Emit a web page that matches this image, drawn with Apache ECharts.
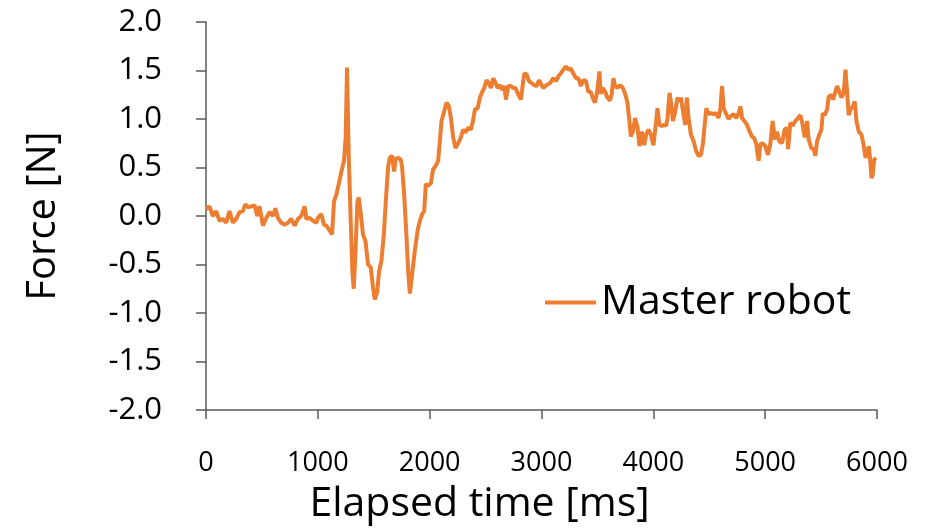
<!DOCTYPE html>
<html>
<head>
<meta charset="utf-8">
<script src="https://cdn.jsdelivr.net/npm/echarts@6/dist/echarts.min.js"></script>
<style>
  html, body { margin: 0; padding: 0; background: #fff; }
  #chart { width: 925px; height: 530px; }
</style>
</head>
<body>
<div id="chart"></div>
<script>
// elapsed time [ms]
const time = [
  0, 31, 61, 91, 121, 151, 181, 210, 240, 270, 300, 330, 351, 374, 405, 434, 458, 479, 509, 539,
  569, 598, 620, 643, 673, 703, 733, 763, 793, 822, 852, 882, 897, 927, 957, 987,
  1001, 1031, 1055, 1076, 1106, 1127, 1145, 1166, 1187, 1211, 1234, 1249, 1261, 1276, 1294, 1309,
  1321, 1336, 1354, 1366, 1384, 1404, 1426, 1449, 1473, 1494, 1509, 1530, 1548, 1569, 1590, 1610,
  1628, 1643, 1664, 1682, 1697, 1718, 1742, 1754, 1772, 1790, 1808, 1823, 1843, 1867, 1892, 1912,
  1933, 1951, 1966, 1986, 2011, 2031, 2055,
  2076, 2091, 2106, 2130, 2151, 2172, 2190, 2210, 2231, 2255, 2279, 2300, 2321, 2345, 2369, 2389,
  2405, 2429, 2449, 2470, 2488, 2509, 2530, 2548, 2569, 2590, 2608, 2628, 2649, 2667, 2682, 2703,
  2727, 2747, 2768, 2793, 2816, 2832, 2846, 2867, 2888, 2912, 2935, 2957, 2978,
  3016, 3046, 3076, 3106, 3130, 3151, 3172, 3195, 3219, 3240, 3261, 3285, 3309, 3330, 3351, 3375,
  3398, 3419, 3440, 3464, 3479, 3500, 3518, 3530, 3548, 3569, 3589, 3613, 3628, 3643, 3658, 3679,
  3703, 3727, 3748, 3768, 3786, 3799, 3817, 3837, 3858, 3876, 3897, 3918, 3936, 3956, 3978, 4001,
  4025, 4037, 4054, 4076, 4097, 4115, 4127, 4145, 4157, 4175, 4196, 4216, 4234, 4247, 4265, 4285,
  4300, 4315, 4336, 4360, 4383, 4404, 4425, 4444, 4458, 4473, 4494, 4515, 4539, 4563, 4582, 4599,
  4614, 4629, 4652, 4673, 4694, 4718, 4742, 4763, 4778, 4793, 4813, 4838, 4861, 4882, 4903, 4921,
  4933, 4942, 4957, 4977,
  5001, 5025, 5046, 5067, 5085, 5106, 5127, 5151, 5174, 5196, 5205, 5225, 5246, 5270, 5294, 5315,
  5335, 5354, 5375, 5389, 5413, 5434, 5449, 5464, 5485, 5503, 5515, 5533, 5554, 5568, 5592, 5607,
  5628, 5643, 5664, 5682, 5703, 5718, 5733, 5747, 5763, 5783, 5801, 5816, 5837, 5861, 5882, 5897,
  5912, 5927, 5939, 5951, 5962, 5975, 5990
];

// force [N] of the master robot
const force = [
  0.07, 0.10, 0.00, 0.05, -0.05, -0.03, -0.07, 0.05, -0.07, -0.03, 0.04, 0.05, 0.12, 0.09, 0.10, 0.11, 0.00, 0.10, -0.10, -0.02,
  0.04, 0.00, 0.08, -0.02, -0.07, -0.09, -0.07, -0.03, -0.10, -0.03, 0.00, 0.10, -0.03, -0.02, -0.05, -0.07,
  -0.02, 0.02, -0.09, -0.10, -0.15, -0.19, 0.15, 0.22, 0.33, 0.46, 0.57, 0.81, 1.53, 0.63, -0.05, -0.57,
  -0.75, -0.39, 0.15, 0.19, 0.02, -0.19, -0.26, -0.50, -0.53, -0.74, -0.86, -0.79, -0.57, -0.46, -0.19, 0.19,
  0.50, 0.60, 0.62, 0.46, 0.59, 0.60, 0.58, 0.50, 0.22, -0.15, -0.57, -0.80, -0.60, -0.36, -0.15, -0.05,
  0.02, 0.05, 0.33, 0.31, 0.34, 0.48, 0.52,
  0.57, 0.77, 0.98, 1.08, 1.17, 1.13, 1.01, 0.81, 0.70, 0.75, 0.81, 0.89, 0.86, 0.91, 0.89, 0.99,
  1.10, 1.11, 1.22, 1.28, 1.32, 1.40, 1.37, 1.32, 1.42, 1.37, 1.32, 1.35, 1.30, 1.34, 1.20, 1.34,
  1.34, 1.32, 1.32, 1.25, 1.20, 1.35, 1.47, 1.46, 1.39, 1.37, 1.35, 1.34, 1.40,
  1.32, 1.35, 1.37, 1.42, 1.39, 1.44, 1.47, 1.51, 1.54, 1.51, 1.52, 1.47, 1.42, 1.42, 1.34, 1.40,
  1.39, 1.28, 1.28, 1.20, 1.17, 1.30, 1.49, 1.26, 1.32, 1.28, 1.22, 1.19, 1.26, 1.42, 1.34, 1.32,
  1.35, 1.32, 1.26, 1.17, 0.98, 0.82, 0.87, 1.01, 0.92, 0.72, 0.87, 0.73, 0.84, 0.89, 0.84, 0.73,
  0.98, 1.11, 0.94, 0.93, 0.94, 0.93, 1.01, 1.27, 1.18, 0.98, 1.08, 1.22, 1.18, 1.22, 1.08, 0.94,
  1.22, 1.01, 0.84, 0.77, 0.67, 0.62, 0.63, 0.75, 0.77, 1.11, 1.05, 1.06, 1.05, 1.06, 1.01, 1.10,
  1.34, 1.11, 1.05, 1.00, 1.03, 1.05, 1.01, 1.06, 1.13, 1.01, 0.98, 0.94, 0.87, 0.82, 0.80, 0.74,
  0.63, 0.57, 0.74, 0.75,
  0.72, 0.63, 0.74, 0.98, 0.79, 0.87, 0.77, 0.75, 0.89, 0.91, 0.69, 0.96, 0.93, 0.98, 1.01, 1.04,
  0.94, 0.81, 0.98, 0.79, 0.70, 0.69, 0.62, 0.77, 0.84, 0.89, 1.06, 1.04, 1.10, 1.23, 1.25, 1.20,
  1.28, 1.34, 1.28, 1.22, 1.27, 1.51, 1.27, 1.04, 1.10, 1.13, 1.18, 0.98, 0.87, 0.84, 0.72, 0.60,
  0.65, 0.72, 0.58, 0.39, 0.43, 0.58, 0.60
];

const seriesName = "Master robot";
const lineColor = "#ED7D31";
const axisColor = "#595959";

const chart = echarts.init(document.getElementById("chart"), null, { renderer: "canvas" });

const points = time.map((t, i) => [t, force[i]]);

chart.setOption({
    backgroundColor: "#ffffff",
    animation: false,
    grid: {
        left: 206,
        right: 48,
        top: 22,
        bottom: 119,
    },
    legend: {
        data: [{ name: seriesName, icon: "rect" }],
        left: 540,
        top: 277,
        itemWidth: 51,
        itemHeight: 4,
        itemGap: 0,
        textStyle: {
            fontFamily: "Open Sans",
            fontSize: 41,
            color: "#000",
        },
    },
    xAxis: {
        type: "value",
        min: 0,
        max: 6000,
        interval: 1000,
        name: "Elapsed time [ms]",
        nameLocation: "middle",
        nameGap: 74,
        nameTextStyle: {
            fontFamily: "Open Sans",
            fontSize: 41,
            color: "#000",
            padding: [0, 124, 0, 0],
        },
        axisLine: { onZero: false, lineStyle: { color: axisColor, width: 1.5 } },
        axisTick: { length: 9, lineStyle: { color: axisColor, width: 1.5 } },
        axisLabel: {
            margin: 40,
            fontFamily: "Open Sans",
            fontSize: 27,
            color: "#000",
            formatter: (v) => String(v),
        },
        splitLine: { show: false },
    },
    yAxis: {
        type: "value",
        min: -2,
        max: 2,
        interval: 0.5,
        name: "Force [N]",
        nameLocation: "middle",
        nameGap: 142,
        nameTextStyle: {
            fontFamily: "Open Sans",
            fontSize: 40,
            color: "#000",
        },
        axisLine: { show: true, lineStyle: { color: axisColor, width: 1.5 } },
        axisTick: { show: true, length: 10, lineStyle: { color: axisColor, width: 1.5 } },
        axisLabel: {
            margin: 44,
            fontFamily: "Open Sans",
            fontSize: 31,
            color: "#000",
            formatter: (v) => v.toFixed(1),
        },
        splitLine: { show: false },
    },
    series: [
        {
            name: seriesName,
            type: "line",
            data: points,
            showSymbol: false,
            symbol: "none",
            lineStyle: { color: lineColor, width: 4 },
            itemStyle: { color: lineColor },
        },
    ],
});
</script>
</body>
</html>
